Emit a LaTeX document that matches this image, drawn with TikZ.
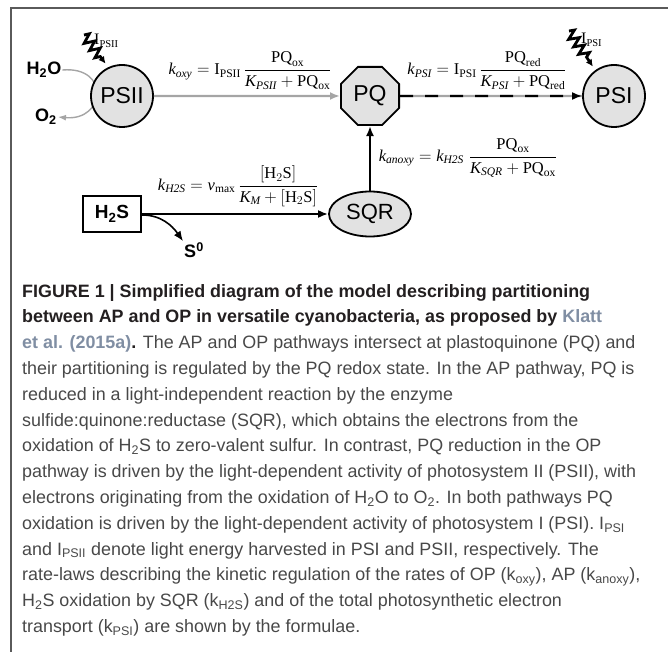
\documentclass[tikz,border=0pt]{standalone}
\usepackage{fontspec}
\setmainfont{Liberation Serif}
\setsansfont{Liberation Sans}
\usetikzlibrary{arrows.meta, positioning, shapes.geometric, decorations.pathmorphing}
\definecolor{nodefill}{RGB}{226,226,226}
\definecolor{oxyline}{RGB}{165,165,165}
\definecolor{frameline}{RGB}{90,90,90}
\definecolor{captext}{RGB}{72,72,72}
\definecolor{capbold}{RGB}{35,31,32}
\definecolor{citeblue}{RGB}{128,142,163}

\begin{document}
\begin{tikzpicture}[
  x=1pt, y=1pt,
  psys/.style={circle, draw, fill=nodefill, line width=1.8pt, minimum size=62pt,
               inner sep=0pt, font=\sffamily\fontsize{23}{23}\selectfont},
  pqbox/.style={regular polygon, regular polygon sides=8, draw, fill=nodefill,
                line width=1.8pt, minimum size=63pt, inner sep=0pt,
                font=\sffamily\fontsize{23}{23}\selectfont},
  enz/.style={ellipse, draw, fill=nodefill, line width=1.8pt, minimum width=82pt,
              minimum height=45pt, inner sep=0pt, font=\sffamily\fontsize{22}{22}\selectfont},
  sbox/.style={rectangle, draw, fill=white, line width=2.2pt, minimum width=58pt,
               minimum height=36pt, inner sep=0pt, font=\sffamily\bfseries\fontsize{19}{19}\selectfont},
  chem/.style={inner sep=1pt, font=\sffamily\bfseries\fontsize{18}{18}\selectfont},
  rate/.style={inner sep=0pt, font=\fontsize{16.5}{19}\selectfont},
  ilabel/.style={inner sep=0pt, font=\fontsize{16}{18}\selectfont},
  oxyflow/.style={-{Latex[length=10pt, width=8pt]}, draw=oxyline, line width=2.4pt},
  flow/.style={-{Latex[length=10pt, width=8pt]}, line width=2pt},
  dashflow/.style={-{Latex[length=10pt, width=8pt]}, line width=2.4pt, dash pattern=on 13pt off 12pt},
  light/.style={-{Latex[length=7pt, width=7pt]}, line width=2.8pt, decorate,
                decoration={zigzag, amplitude=5pt, segment length=9pt, post length=8pt}},
  caption/.style={inner sep=0pt, align=left, text=captext,
                  font=\sffamily\fontsize{17.9}{25.8}\selectfont},
]
\useasboundingbox (0,0) rectangle (668,-652);
\draw[frameline, line width=1.4pt] (668,-8) -- (11,-8) -- (11,-652);

% water splitting, drawn first so PSII sits on top
\node[chem] (h2o) at (44,-70) {H\textsubscript{2}O};
\node[chem] (o2) at (46,-117) {O\textsubscript{2}};
\draw[oxyflow, line width=1.4pt, -{Latex[length=8pt, width=6pt]}] (h2o.east) to[out=5, in=-5, looseness=2.6] (o2.east);

% photosystems and the quinone pool
\node[psys] (psii) at (122,-96) {PSII};
\node[pqbox] (pq) at (370,-96) {PQ};
\node[psys] (psi) at (614,-96) {PSI};
\node[enz] (sqr) at (370,-214) {SQR};
\node[sbox] (h2s) at (112,-214) {H\textsubscript{2}S};
\node[chem] (s0) at (194,-250) {S\textsuperscript{0}};

% light input
\coordinate (lii) at (84,-35);
\coordinate (li) at (569,-31);
\node[ilabel, anchor=west] (ipsii) at (94,-41) {I\textsubscript{\fontsize{10.5}{10}\selectfont PSII}};
\node[ilabel, anchor=west] (ipsi) at (581,-40) {I\textsubscript{\fontsize{10.5}{10}\selectfont PSI}};
\draw[light] (lii) -- ([shift={(-2,4)}]psii.117);
\draw[light] (li) -- ([shift={(-2,4)}]psi.127);

% rate laws
\node[rate] (koxy) at (250,-71)
  {$\mathit{k}_{\mathit{oxy}} = \mathrm{I}_{\mathrm{PSII}}\,\displaystyle\frac{\mathrm{PQ}_{\mathrm{ox}}\rule[-3pt]{0pt}{0pt}}{\mathit{K}_{\mathit{PSII}}+\mathrm{PQ}_{\mathrm{ox}}}$};
\node[rate] (kpsi) at (487,-71)
  {$\mathit{k}_{\mathit{PSI}} = \mathrm{I}_{\mathrm{PSI}}\,\displaystyle\frac{\mathrm{PQ}_{\mathrm{red}}\rule[-3pt]{0pt}{0pt}}{\mathit{K}_{\mathit{PSI}}+\mathrm{PQ}_{\mathrm{red}}}$};
\node[rate] (kh2s) at (238,-186)
  {$\mathit{k}_{\mathit{H2S}} = \mathit{v}_{\mathrm{max}}\,\displaystyle\frac{[\mathrm{H}_2\mathrm{S}]\rule[-3pt]{0pt}{0pt}}{\mathit{K}_{\mathit{M}}+[\mathrm{H}_2\mathrm{S}]}$};
\node[rate] (kanoxy) at (468,-158)
  {$\mathit{k}_{\mathit{anoxy}} = \mathit{k}_{\mathit{H2S}}\;\displaystyle\frac{\mathrm{PQ}_{\mathrm{ox}}\rule[-3pt]{0pt}{0pt}}{\mathit{K}_{\mathit{SQR}}+\mathrm{PQ}_{\mathrm{ox}}}$};

% electron flow
\draw[oxyflow] (psii) -- (pq);
\draw[draw=oxyline, line width=2.4pt] (pq) -- (psi);
\draw[dashflow] (pq) -- (psi);
\draw[flow] (h2s) -- (sqr);
\draw[flow] (sqr) -- (pq);
\draw[flow, line width=1.6pt] ([yshift=-1pt]h2s.east) to[out=0, in=125] (s0.north west);

% caption
\node[caption, anchor=north west] (cap) at (22,-284) {%
{\bfseries\color{capbold}FIGURE 1 | Simplified diagram of the model describing partitioning}\\
{\bfseries\color{capbold}between AP and OP in versatile cyanobacteria, as proposed by \color{citeblue}Klatt}\\
{\bfseries\color{citeblue}et al. (2015a)\color{capbold}.} The AP and OP pathways intersect at plastoquinone (PQ) and\\
their partitioning is regulated by the PQ redox state. In the AP pathway, PQ is\\
reduced in a light-independent reaction by the enzyme\\
sulfide:quinone:reductase (SQR), which obtains the electrons from the\\
oxidation of H\textsubscript{2}S to zero-valent sulfur. In contrast, PQ reduction in the OP\\
pathway is driven by the light-dependent activity of photosystem II (PSII), with\\
electrons originating from the oxidation of H\textsubscript{2}O to O\textsubscript{2}. In both pathways PQ\\
oxidation is driven by the light-dependent activity of photosystem I (PSI). I\textsubscript{PSI}\\
and I\textsubscript{PSII} denote light energy harvested in PSI and PSII, respectively. The\\
rate-laws describing the kinetic regulation of the rates of OP (k\textsubscript{oxy}), AP (k\textsubscript{anoxy}),\\
H\textsubscript{2}S oxidation by SQR (k\textsubscript{H2S}) and of the total photosynthetic electron\\
transport (k\textsubscript{PSI}) are shown by the formulae.};
\end{tikzpicture}
\end{document}
